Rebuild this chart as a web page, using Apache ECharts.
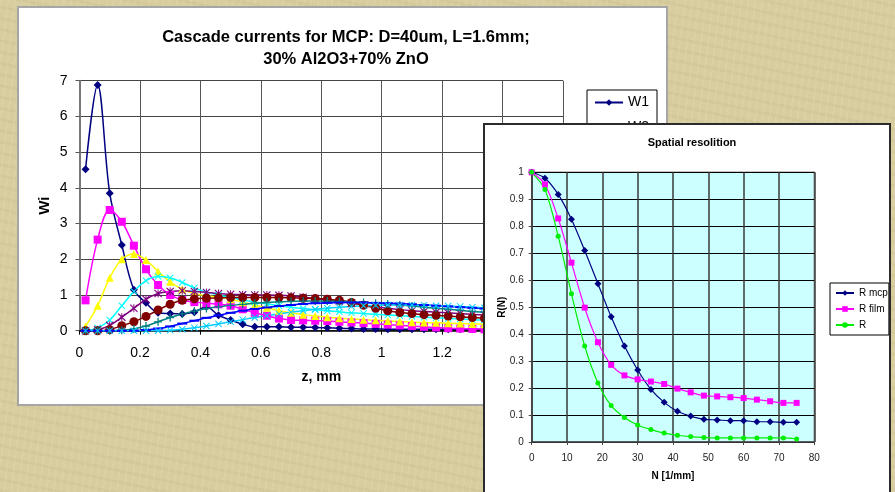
<!DOCTYPE html>
<html><head><meta charset="utf-8">
<script src="https://cdn.jsdelivr.net/npm/echarts@6/dist/echarts.min.js"></script>
<style>
html,body{margin:0;padding:0;width:895px;height:492px;overflow:hidden;background:#d8cd9e;}
#bg{position:absolute;left:0;top:0;width:895px;height:492px;
 background:
  repeating-linear-gradient(97deg, rgba(255,255,240,0.07) 0px, rgba(255,255,240,0.07) 2px, rgba(0,0,0,0) 2px, rgba(0,0,0,0) 7px),
  repeating-linear-gradient(12deg, rgba(120,100,50,0.05) 0px, rgba(120,100,50,0.05) 3px, rgba(0,0,0,0) 3px, rgba(0,0,0,0) 11px),
  #d8cd9e;}
#p1{position:absolute;left:17px;top:6px;width:647px;height:396px;border:2px solid #a6a6a6;background:#fff;}
#c1{position:absolute;left:0;top:0;width:647px;height:396px;}
#p2{position:absolute;left:483px;top:123px;width:404px;height:380px;border:2px solid #2b2b2b;background:#fff;}
#c2{position:absolute;left:0;top:0;width:404px;height:380px;}
</style></head>
<body>
<div id="bg"></div>
<div id="p1"><div id="c1"></div></div>
<div id="p2"><div id="c2"></div></div>
<script>
// ---------- Left chart data: cascade currents ----------
const zValues = [0.02,0.06,0.10,0.14,0.18,0.22,0.26,0.30,0.34,0.38,0.42,0.46,0.50,0.54,0.58,0.62,0.66,0.70,0.74,0.78,
                 0.82,0.86,0.90,0.94,0.98,1.02,1.06,1.10,1.14,1.18,1.22,1.26,1.30,1.34,1.38,1.42,1.46,1.50,1.54,1.58];
const W1 = [4.52,6.88,3.85,2.40,1.15,0.78,0.50,0.48,0.47,0.52,0.67,0.43,0.30,0.18,0.11,0.11,0.11,0.10,0.10,0.09,
            0.08,0.07,0.06,0.05,0.05,0.04,0.04,0.04,0.04,0.04,0.04,0.04,0.04,0.04,0.04,0.04,0.04,0.04,0.04,0.04];
const W2 = [0.85,2.55,3.38,3.05,2.38,1.72,1.28,1.00,0.86,0.80,0.77,0.74,0.70,0.60,0.50,0.42,0.34,0.30,0.29,0.28,
            0.27,0.25,0.23,0.21,0.19,0.17,0.15,0.13,0.11,0.09,0.07,0.06,0.05,0.04,0.03,0.03,0.03,0.03,0.03,0.03];
const W3 = [0.12,0.70,1.48,2.00,2.15,1.98,1.66,1.37,1.16,1.04,0.98,0.94,0.88,0.80,0.72,0.64,0.56,0.50,0.45,0.41,
            0.38,0.35,0.33,0.31,0.29,0.27,0.26,0.24,0.23,0.22,0.21,0.20,0.19,0.18,0.17,0.16,0.15,0.14,0.13,0.12];
const W4 = [0.00,0.08,0.30,0.70,1.10,1.40,1.52,1.48,1.35,1.20,1.08,1.00,0.93,0.86,0.80,0.75,0.70,0.66,0.62,0.59,
            0.56,0.53,0.50,0.48,0.46,0.44,0.42,0.40,0.38,0.36,0.34,0.33,0.31,0.30,0.29,0.28,0.27,0.26,0.25,0.24];
const W5 = [0.00,0.03,0.15,0.38,0.63,0.88,1.04,1.10,1.12,1.10,1.07,1.04,1.02,1.01,1.00,1.00,0.99,0.97,0.94,0.90,
            0.86,0.82,0.77,0.72,0.67,0.63,0.59,0.56,0.54,0.52,0.50,0.48,0.46,0.44,0.42,0.40,0.38,0.37,0.35,0.34];
const W6 = [0.00,0.00,0.03,0.14,0.25,0.40,0.58,0.74,0.85,0.89,0.91,0.92,0.93,0.93,0.93,0.93,0.93,0.92,0.91,0.90,
            0.88,0.85,0.79,0.71,0.63,0.56,0.51,0.48,0.45,0.43,0.41,0.39,0.37,0.35,0.34,0.33,0.32,0.31,0.30,0.29];
const W7 = [0.00,0.00,0.00,0.01,0.05,0.13,0.25,0.37,0.47,0.55,0.62,0.67,0.71,0.74,0.77,0.79,0.81,0.82,0.83,0.83,
            0.83,0.82,0.81,0.79,0.77,0.75,0.72,0.69,0.66,0.63,0.60,0.57,0.54,0.52,0.50,0.48,0.46,0.44,0.42,0.40];
const W8 = [0.00,0.00,0.00,0.00,0.00,0.02,0.06,0.12,0.20,0.28,0.36,0.43,0.50,0.56,0.61,0.65,0.69,0.72,0.75,0.77,
            0.78,0.79,0.79,0.79,0.78,0.77,0.76,0.74,0.72,0.70,0.68,0.66,0.64,0.62,0.60,0.58,0.56,0.54,0.52,0.50];
const W9 = [0.00,0.00,0.00,0.00,0.00,0.00,0.00,0.01,0.04,0.08,0.13,0.19,0.25,0.31,0.37,0.42,0.47,0.52,0.56,0.60,
            0.63,0.66,0.68,0.70,0.71,0.72,0.72,0.72,0.71,0.70,0.69,0.68,0.66,0.64,0.62,0.60,0.58,0.56,0.54,0.52];
const wNames = ['W1','W2','W3','W4','W5','W6','W7','W8','W9'];
const zTicks = ['0','0.2','0.4','0.6','0.8','1','1.2','1.4','1.6'];

// ---------- Right chart data: spatial resolution ----------
const nValues = [0,3.75,7.5,11.25,15,18.75,22.5,26.25,30,33.75,37.5,41.25,45,48.75,52.5,56.25,60,63.75,67.5,71.25,75];
const Rmcp  = [1.000,0.978,0.918,0.826,0.710,0.587,0.464,0.356,0.267,0.195,0.147,0.114,0.096,0.084,0.082,0.079,0.079,0.075,0.075,0.073,0.073];
const Rfilm = [1.000,0.955,0.829,0.665,0.498,0.370,0.286,0.247,0.232,0.224,0.215,0.198,0.184,0.172,0.169,0.166,0.163,0.157,0.151,0.145,0.145];
const Rtot  = [1.000,0.936,0.763,0.550,0.356,0.219,0.135,0.091,0.063,0.046,0.033,0.025,0.020,0.017,0.015,0.015,0.015,0.015,0.015,0.015,0.011];
const rNames = ['R mcp','R film','R'];

const FONT = 'Liberation Sans, Arial, sans-serif';
const X_PATH = 'path://M1,0L5,4L9,0L10,1L6,5L10,9L9,10L5,6L1,10L0,9L4,5L0,1Z';
const STAR_PATH = 'path://M1,0L5,4L9,0L10,1L6,5L10,9L9,10L5,6L1,10L0,9L4,5L0,1Z M4.4,0L5.6,0L5.6,10L4.4,10Z';
const PLUS_PATH = 'path://M4.2,0H5.8V4.2H10V5.8H5.8V10H4.2V5.8H0V4.2H4.2Z';

const wData = [W1,W2,W3,W4,W5,W6,W7,W8,W9];
const wColors = ['#000080','#ff00ff','#ffff00','#00ffff','#800080','#800000','#008080','#0000ff','#00ccff'];
const wSymbols = ['diamond','rect','triangle',X_PATH,STAR_PATH,'circle',PLUS_PATH,'rect',X_PATH];
const wSizes = [8,8,8,7,8,9,8,[10,2],7];

const c1 = echarts.init(document.getElementById('c1'), null, {renderer:'canvas'});
c1.setOption({
  animation:false,
  backgroundColor:'#fff',
  title:{text:'Cascade currents for MCP: D=40um, L=1.6mm;\n30% Al2O3+70% ZnO', left:322, top:14, textAlign:'center',
         textStyle:{fontFamily:FONT,fontSize:16.5,fontWeight:'bold',color:'#000',lineHeight:21.5}},
  legend:{orient:'vertical', left:568, top:82, padding:[4,8,60,7], itemGap:8, itemWidth:28, itemHeight:8,
          borderColor:'#000', borderWidth:1, backgroundColor:'#fff',
          textStyle:{fontFamily:FONT,fontSize:14,color:'#000',lineHeight:17}, data:wNames},
  grid:{left:60.5, top:72.7, width:483.5, height:250},
  xAxis:{type:'value', min:0, max:1.6, interval:0.2, name:'z, mm', nameLocation:'middle', nameGap:39, nameMoveOverlap:false,
         nameTextStyle:{fontFamily:FONT,fontSize:14,fontWeight:'bold',color:'#000'},
         axisLine:{onZero:false,lineStyle:{color:'#000',width:1.5}},
         axisTick:{show:true,length:4,inside:false,lineStyle:{color:'#000'}},
         axisLabel:{margin:15,fontFamily:FONT,fontSize:14,color:'#000',
                    formatter:(v)=>zTicks[Math.round(v/0.2)]},
         splitLine:{show:true,lineStyle:{color:'#555',width:1}}},
  yAxis:{type:'value', min:0, max:7, interval:1, name:'Wi', nameLocation:'middle', nameGap:27, nameMoveOverlap:false,
         nameTextStyle:{fontFamily:FONT,fontSize:15,fontWeight:'bold',color:'#000'},
         axisLine:{show:true,lineStyle:{color:'#777',width:2}},
         axisTick:{show:true,length:4,lineStyle:{color:'#555'}},
         axisLabel:{margin:12,fontFamily:FONT,fontSize:14,color:'#000'},
         splitLine:{show:true,lineStyle:{color:'#444',width:1}}},
  series: wData.map((d,i)=>({
    name:wNames[i], type:'line', smooth:0.35,
    data: zValues.map((z,k)=>[z,d[k]]),
    symbol:wSymbols[i], symbolSize:wSizes[i], showAllSymbol:true,
    lineStyle:{color:wColors[i],width:1.5},
    itemStyle:{color:wColors[i]}
  }))
});

const c2 = echarts.init(document.getElementById('c2'), null, {renderer:'canvas'});
const rColors = ['#000080','#ff00ff','#00ee00'];
const rSymbols = ['diamond','rect','circle'];
const rSizes = [7,6,5];
const rData = [Rmcp,Rfilm,Rtot];
c2.setOption({
  animation:false,
  backgroundColor:'#fff',
  title:{text:'Spatial resolition', left:202, top:7, textAlign:'center',
         textStyle:{fontFamily:FONT,fontSize:11,fontWeight:'bold',color:'#000'}},
  legend:{orient:'vertical', left:345, top:158, padding:[4,1,4,5], itemGap:4, itemWidth:18, itemHeight:7,
          borderColor:'#000', borderWidth:1, backgroundColor:'#fff',
          textStyle:{fontFamily:FONT,fontSize:10,color:'#000',lineHeight:12}, data:rNames},
  grid:{left:46.7, top:47.3, width:282.6, height:269.7, show:true, backgroundColor:'#ccffff', borderColor:'#888', borderWidth:1.5},
  xAxis:{type:'value', min:0, max:80, interval:10, name:'N [1/mm]', nameLocation:'middle', nameGap:29, nameMoveOverlap:false,
         nameTextStyle:{fontFamily:FONT,fontSize:10,fontWeight:'bold',color:'#000'},
         axisLine:{onZero:false,lineStyle:{color:'#444',width:1.5}},
         axisTick:{show:true,length:3,lineStyle:{color:'#444'}},
         axisLabel:{margin:11,fontFamily:FONT,fontSize:10,color:'#222'},
         splitLine:{show:true,lineStyle:{color:'#3a3a3a',width:1.5}}},
  yAxis:{type:'value', min:0, max:1, interval:0.1, name:'R(N)', nameLocation:'middle', nameGap:24, nameMoveOverlap:false,
         nameTextStyle:{fontFamily:FONT,fontSize:10,fontWeight:'bold',color:'#000'},
         axisLine:{show:true,lineStyle:{color:'#444',width:1.5}},
         axisTick:{show:true,length:3,lineStyle:{color:'#444'}},
         axisLabel:{margin:8,fontFamily:FONT,fontSize:10,color:'#222'},
         splitLine:{show:true,lineStyle:{color:'#000',width:1}}},
  series: rData.map((d,i)=>({
    name:rNames[i], type:'line', smooth:0.3,
    data: nValues.map((n,k)=>[n,d[k]]),
    symbol:rSymbols[i], symbolSize:rSizes[i], showAllSymbol:true,
    lineStyle:{color:rColors[i],width:1.2},
    itemStyle:{color:rColors[i]}
  }))
});
</script>
</body></html>
